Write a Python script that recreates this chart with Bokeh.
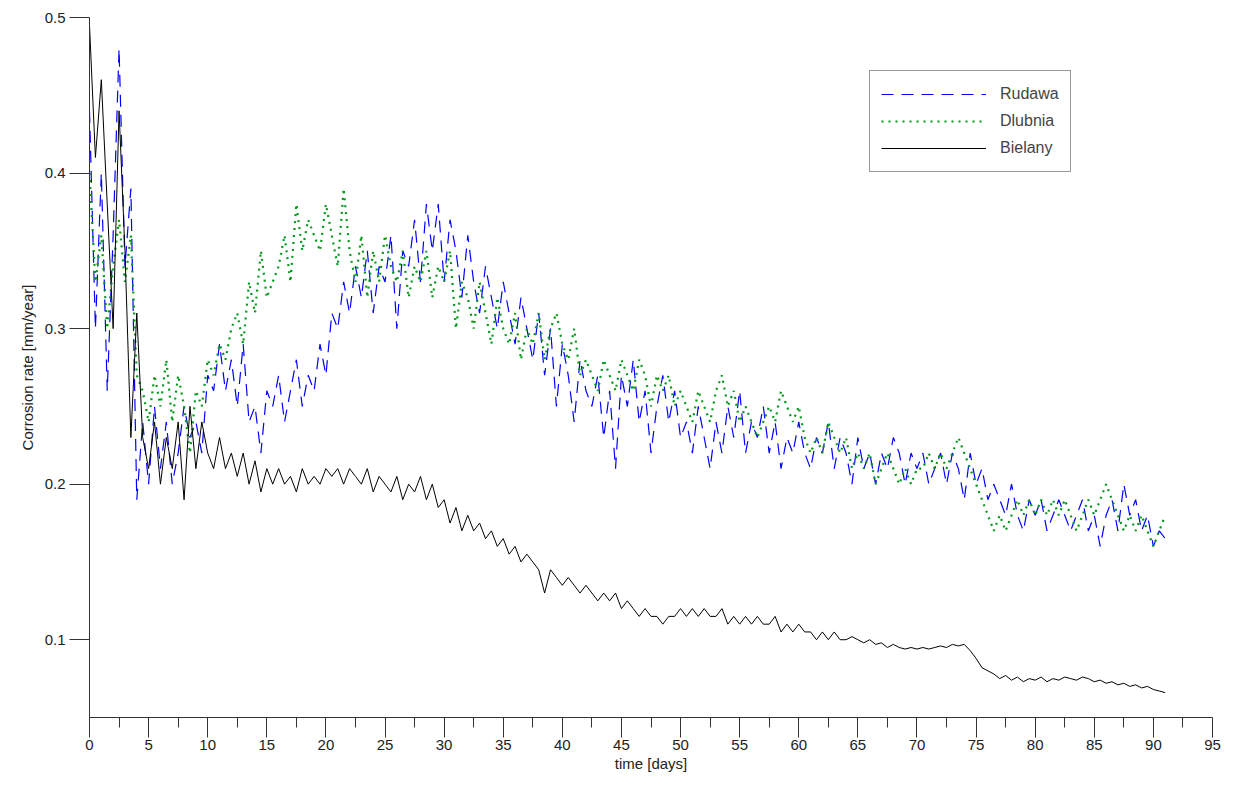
from bokeh.plotting import figure
from bokeh.models import FixedTicker, Range1d
from bokeh.embed import file_html
from bokeh.resources import INLINE

step = 0.5
bielany = [0.495,0.41,0.46,0.38,0.30,0.44,0.35,0.23,0.31,
 0.23,0.21,0.24,0.20,0.23,0.21,0.24,0.19,0.25,0.21,0.24,0.22,
 0.21,0.23,0.21,0.22,0.205,0.22,0.20,0.215,0.195,0.21,
 0.20,0.21,0.20,0.205,0.195,0.21,0.20,0.205,0.20,0.21,0.205,0.21,0.20,0.21,0.205,0.20,0.21,0.195,0.205,0.20,0.195,0.205,0.19,0.20,0.195,0.205,
 0.19,0.20,0.185,0.19,0.175,0.185,0.17,0.18,0.17,0.175,0.165,0.17,0.16,0.165,
 0.155,0.16,0.15,0.155,0.15,0.145,0.13,0.145,0.14,0.135,0.14,0.135,0.13,0.135,
 0.13,0.125,0.13,0.125,0.13,0.12,0.125,0.12,0.115,0.12,0.115,0.115,0.11,0.115,0.115,0.12,
 0.115,0.12,0.115,0.12,0.115,0.115,0.12,0.11,0.115,0.11,0.115,0.11,0.115,0.11,0.11,0.115,0.105,0.11,0.105,0.11,
 0.105,0.105,0.1,0.105,0.1,0.105,0.1,0.1,0.102,0.1,0.098,0.1,0.097,0.098,0.095,0.097,0.095,0.094,0.095,0.094,
 0.095,0.094,0.095,0.096,0.095,0.097,0.096,0.097,0.093,0.088,0.082,0.08,
 0.078,0.075,0.077,0.074,0.076,0.073,0.075,0.074,0.076,0.073,0.075,0.074,0.076,0.075,0.074,0.076,0.075,0.073,0.074,0.072,0.073,0.071,0.072,0.070,0.071,0.069,0.070,0.068,0.067,0.066]
rudawa = [0.44,0.30,0.40,0.26,0.36,0.48,0.34,0.39,0.19,
 0.24,0.20,0.25,0.21,0.24,0.20,0.22,0.25,0.23,0.24,0.22,0.27,
 0.26,0.29,0.26,0.28,0.25,0.29,0.24,0.25,0.22,0.26,
 0.25,0.27,0.24,0.26,0.28,0.25,0.27,0.26,0.29,0.27,0.31,0.30,0.33,0.31,0.34,0.32,0.35,0.31,0.34,0.33,0.36,0.30,0.35,0.34,0.37,0.33,
 0.38,0.35,0.38,0.33,0.37,0.35,0.32,0.36,0.33,0.31,0.34,0.32,0.30,0.33,
 0.31,0.29,0.32,0.30,0.28,0.31,0.27,0.30,0.25,0.29,0.27,0.24,0.28,0.26,
 0.25,0.27,0.23,0.26,0.21,0.27,0.25,0.28,0.24,0.26,0.22,0.25,0.27,0.24,0.26,0.23,
 0.24,0.22,0.25,0.23,0.21,0.24,0.22,0.25,0.23,0.26,0.22,0.24,0.23,0.25,0.22,0.24,0.21,0.23,0.22,0.24,
 0.22,0.21,0.23,0.22,0.24,0.21,0.23,0.22,0.20,0.23,0.21,0.22,0.20,0.22,0.21,0.23,0.22,0.20,0.22,0.21,
 0.22,0.20,0.21,0.22,0.20,0.22,0.21,0.19,0.22,0.20,0.21,0.19,
 0.20,0.19,0.18,0.20,0.18,0.17,0.19,0.18,0.19,0.17,0.18,0.19,0.18,0.17,0.18,0.19,0.17,0.18,0.16,0.18,0.19,0.17,0.20,0.18,0.19,0.17,0.18,0.16,0.17,0.165]
dlubnia = [0.40,0.33,0.36,0.30,0.34,0.37,0.33,0.36,0.27,
 0.26,0.24,0.27,0.25,0.28,0.24,0.27,0.25,0.22,0.26,0.25,0.28,
 0.27,0.29,0.28,0.30,0.31,0.29,0.33,0.31,0.35,0.32,
 0.33,0.34,0.36,0.33,0.38,0.35,0.37,0.36,0.35,0.38,0.36,0.34,0.39,0.35,0.33,0.36,0.32,0.35,0.33,0.36,0.34,0.33,0.35,0.32,0.34,0.33,
 0.35,0.32,0.34,0.33,0.35,0.30,0.33,0.32,0.30,0.33,0.31,0.29,0.32,0.30,
 0.29,0.31,0.28,0.30,0.29,0.31,0.28,0.30,0.31,0.29,0.28,0.30,0.27,0.28,
 0.27,0.26,0.28,0.27,0.26,0.28,0.27,0.26,0.28,0.27,0.25,0.27,0.26,0.27,0.25,0.26,
 0.25,0.24,0.26,0.25,0.24,0.26,0.27,0.25,0.26,0.24,0.25,0.24,0.23,0.24,0.25,0.24,0.26,0.25,0.24,0.25,
 0.23,0.22,0.23,0.22,0.24,0.23,0.22,0.23,0.21,0.22,0.21,0.22,0.20,0.21,0.22,0.21,0.20,0.21,0.20,0.21,
 0.21,0.22,0.21,0.22,0.21,0.22,0.23,0.22,0.21,0.20,0.19,0.18,
 0.17,0.18,0.17,0.18,0.19,0.18,0.19,0.18,0.19,0.18,0.19,0.18,0.19,0.18,0.17,0.18,0.19,0.18,0.19,0.20,0.19,0.18,0.17,0.18,0.17,0.18,0.17,0.16,0.17,0.18]
days = [i * step for i in range(len(bielany))]
x_ticks = list(range(0, 100, 5))
y_ticks = [0.1, 0.2, 0.3, 0.4, 0.5]

FONT = "Liberation Sans"
p = figure(width=1221, height=777, output_backend="svg", toolbar_location=None,
           x_range=Range1d(0, 95), y_range=Range1d(0.05, 0.5),
           min_border_left=89, min_border_right=9, min_border_top=17, min_border_bottom=60)
p.outline_line_color = None
p.grid.visible = False

p.line(days, rudawa, line_color="blue", line_dash="12 8", line_width=1.2, legend_label="Rudawa")
p.line(days, dlubnia, line_color="#009a1a", line_dash="2 5", line_width=2.2, legend_label="Dlubnia")
p.line(days, bielany, line_color="black", line_width=1, legend_label="Bielany")

p.xaxis.ticker = FixedTicker(ticks=x_ticks, minor_ticks=[t + 2.5 for t in x_ticks])
p.yaxis.ticker = FixedTicker(ticks=y_ticks)
for ax in (p.xaxis, p.yaxis):
    ax.major_tick_out = 20
    ax.major_tick_in = 0
    ax.minor_tick_out = 10
    ax.minor_tick_in = 0
    ax.axis_line_color = "#333333"
    ax.major_tick_line_color = "#333333"
    ax.minor_tick_line_color = "#333333"
    ax.major_label_text_font = FONT
    ax.major_label_text_font_size = "15px"
    ax.major_label_text_color = "#222222"
    ax.axis_label_text_font = FONT
    ax.axis_label_text_font_size = "15px"
    ax.axis_label_text_font_style = "normal"
    ax.axis_label_text_color = "#222222"
p.yaxis.minor_tick_out = 0
p.xaxis.major_label_standoff = 2
p.xaxis.axis_label_standoff = 2
p.yaxis.axis_label_standoff = 6
p.yaxis.major_label_standoff = 4
p.xaxis.axis_label = "time [days]"
p.yaxis.axis_label = "Corrosion rate [mm/year]"

lg = p.legend[0]
lg.location = (780, 545)
lg.glyph_width = 105
lg.glyph_height = 24
lg.label_height = 24
lg.label_standoff = 14
lg.spacing = 3
lg.padding = 11
lg.margin = 0
lg.label_text_font = FONT
lg.label_text_font_size = "16px"
lg.border_line_color = "#333333"

open("out.html", "w").write(file_html(p, INLINE))
